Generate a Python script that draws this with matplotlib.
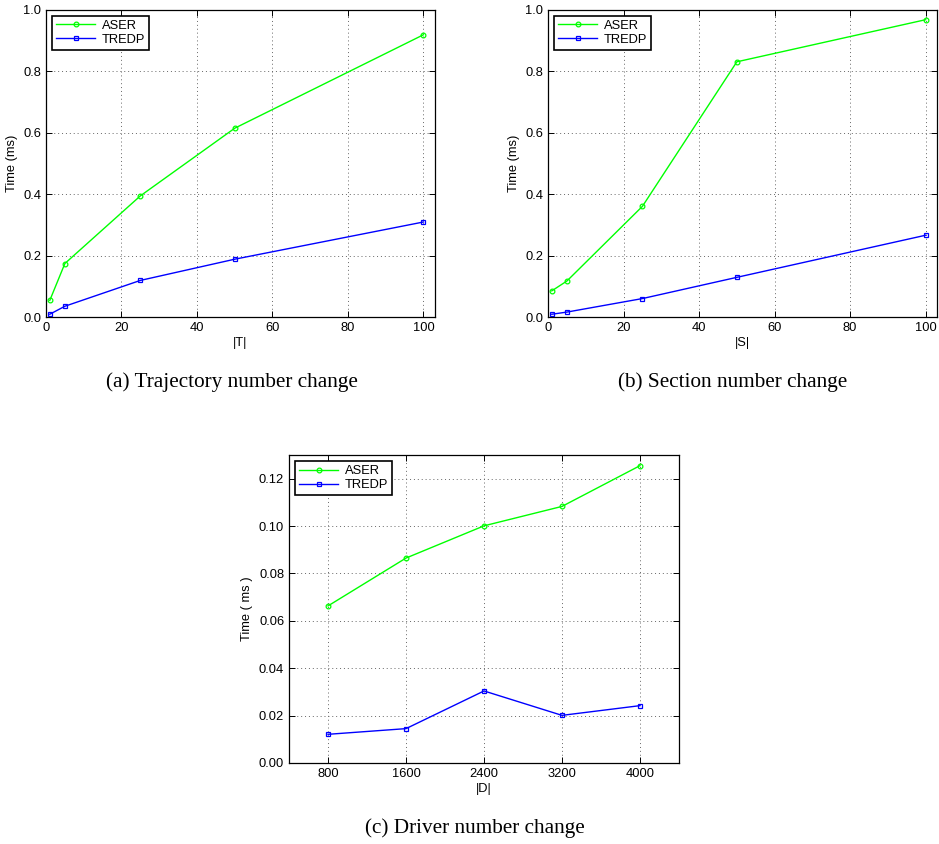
import matplotlib
matplotlib.use("Agg")
import matplotlib.pyplot as plt

plt.rcParams['font.family'] = ['Liberation Sans', 'DejaVu Sans']

# |T| sweep
t_sizes = [1, 5, 25, 50, 100]
t_aser = [0.054, 0.174, 0.394, 0.614, 0.918]
t_tredp = [0.009, 0.035, 0.119, 0.188, 0.309]

# |S| sweep
s_sizes = [1, 5, 25, 50, 100]
s_aser = [0.085, 0.117, 0.360, 0.830, 0.967]
s_tredp = [0.009, 0.016, 0.060, 0.129, 0.266]

# |D| sweep
d_sizes = [800, 1600, 2400, 3200, 4000]
d_aser = [0.0663, 0.0865, 0.1001, 0.1083, 0.1255]
d_tredp = [0.0121, 0.0145, 0.0304, 0.0201, 0.0242]

GREEN = (0.0, 1.0, 0.0)
BLUE = (0.0, 0.0, 1.0)


def draw_panel(ax, x, aser, tredp, xlabel, ylabel, xlim, ylim, xticks, yticks, yfmt):
    ax.plot(x, aser, '-o', color=GREEN, lw=1.0, ms=3.4, mfc='none', mew=0.9, label='ASER')
    ax.plot(x, tredp, '-s', color=BLUE, lw=1.0, ms=3.0, mfc='none', mew=0.9, label='TREDP')
    ax.set_xlim(*xlim)
    ax.set_ylim(*ylim)
    ax.set_xticks(xticks)
    ax.set_yticks(yticks)
    ax.set_yticklabels([yfmt.format(v) for v in yticks])
    ax.grid(True, linestyle=(0, (1, 3)), color='#666666', lw=0.7)
    ax.tick_params(direction='in', top=True, right=True, labelsize=9.3, length=4, width=0.7)
    for sp in ax.spines.values():
        sp.set_linewidth(0.9)
    ax.set_xlabel(xlabel, fontsize=9.3, labelpad=2)
    ax.set_ylabel(ylabel, fontsize=9.3, labelpad=4)
    leg = ax.legend(loc='upper left', fontsize=9.3, fancybox=False, framealpha=1,
                    edgecolor='black', handlelength=3.0, borderpad=0.3,
                    labelspacing=0.15, handletextpad=0.5, borderaxespad=0.5)
    leg.get_frame().set_linewidth(1.2)


fig = plt.figure(figsize=(9.39, 8.44), dpi=100)

ax_a = fig.add_axes([0.049, 0.6244, 0.414, 0.3643])
draw_panel(ax_a, t_sizes, t_aser, t_tredp, '|T|', 'Time (ms)', (0, 103), (0, 1.0),
           [0, 20, 40, 60, 80, 100], [0, 0.2, 0.4, 0.6, 0.8, 1.0], '{:.1f}')

ax_b = fig.add_axes([0.5836, 0.6244, 0.4143, 0.3643])
draw_panel(ax_b, s_sizes, s_aser, s_tredp, '|S|', 'Time (ms)', (0, 103), (0, 1.0),
           [0, 20, 40, 60, 80, 100], [0, 0.2, 0.4, 0.6, 0.8, 1.0], '{:.1f}')

ax_c = fig.add_axes([0.3078, 0.096, 0.4153, 0.3649])
draw_panel(ax_c, d_sizes, d_aser, d_tredp, '|D|', 'Time ( ms )', (400, 4400), (0, 0.13),
           d_sizes, [0, 0.02, 0.04, 0.06, 0.08, 0.10, 0.12], '{:.2f}')

cap = dict(family=['Liberation Serif', 'DejaVu Serif'], fontsize=15.3, ha='center', va='center')
fig.text(232 / 939, 1 - 382 / 844, '(a) Trajectory number change', **cap)
fig.text(733 / 939, 1 - 382 / 844, '(b) Section number change', **cap)
fig.text(475 / 939, 1 - 828 / 844, '(c) Driver number change', **cap)

fig.savefig('out.png', dpi=100)
